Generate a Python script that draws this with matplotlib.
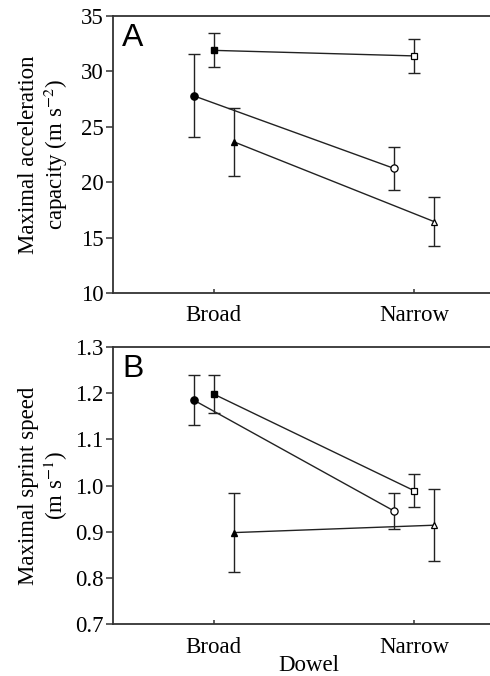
import matplotlib
matplotlib.use("Agg")
import matplotlib.pyplot as plt
import numpy as np

plt.rcParams['font.family'] = ['Liberation Serif', 'DejaVu Serif']
plt.rcParams['mathtext.fontset'] = 'stix'

dowel = ['Broad', 'Narrow']

# panel A: maximal acceleration capacity (m s-2)
acc_square = [31.9, 31.4]
acc_square_err = [1.53, 1.56]
acc_circle = [27.8, 21.25]
acc_circle_err = [3.73, 1.95]
acc_tri = [23.65, 16.45]
acc_tri_err = [3.07, 2.19]

# panel B: maximal sprint speed (m s-1)
spd_circle = [1.185, 0.945]
spd_circle_err = [0.054, 0.039]
spd_square = [1.198, 0.989]
spd_square_err = [0.041, 0.035]
spd_tri = [0.898, 0.914]
spd_tri_err = [0.086, 0.078]

fig = plt.figure(figsize=(4.9, 6.76), dpi=100)
axA = fig.add_axes([0.2306, 0.5666, 0.80, 0.4097])
axB = fig.add_axes([0.2306, 0.0769, 0.80, 0.4098])

x = np.arange(len(dowel))
spine_col = '#333333'


def draw_series(ax, xs, ys, err, marker, ms):
    ax.errorbar(xs, ys, yerr=err, fmt='none', ecolor='#222222', elinewidth=1.0,
                capsize=4, capthick=1.0, zorder=2)
    ax.plot(xs, ys, color='#222222', lw=1.0, zorder=3)
    ax.plot(xs[0], ys[0], marker=marker, ms=ms, color='black', mec='black',
            ls='none', zorder=4)
    ax.plot(xs[1], ys[1], marker=marker, ms=ms, color='white', mec='black',
            mew=0.9, ls='none', zorder=4)


def style(ax, ylim, yticks, fmt):
    ax.set_xlim(-0.503, 1.455)
    ax.set_ylim(*ylim)
    ax.set_yticks(yticks)
    ax.set_yticklabels([fmt.format(v) for v in yticks])
    ax.set_xticks(x)
    ax.set_xticklabels(dowel)
    ax.spines['right'].set_visible(False)
    for s in ['left', 'bottom', 'top']:
        ax.spines[s].set_color(spine_col)
        ax.spines[s].set_linewidth(1.3)
    ax.tick_params(axis='y', direction='out', length=5, width=1.1,
                   color=spine_col, labelsize=16.5, pad=2)
    ax.tick_params(axis='x', direction='in', length=3, width=1.1,
                   color=spine_col, labelsize=16.5, pad=9)


draw_series(axA, x, acc_square, acc_square_err, 's', 4.8)
draw_series(axA, x - 0.1, acc_circle, acc_circle_err, 'o', 5.2)
draw_series(axA, x + 0.1, acc_tri, acc_tri_err, '^', 5)
style(axA, (10, 35), [10, 15, 20, 25, 30, 35], '{:d}')
axA.set_ylabel('Maximal acceleration\ncapacity (m s$^{-2}$)', fontsize=16.5,
               linespacing=1.15)
axA.yaxis.set_label_coords(-0.109, 0.5)
axA.text(0.024, 0.975, 'A', transform=axA.transAxes, fontsize=23,
         family='Liberation Sans', va='top', ha='left')

draw_series(axB, x - 0.1, spd_circle, spd_circle_err, 'o', 5.2)
draw_series(axB, x, spd_square, spd_square_err, 's', 4.8)
draw_series(axB, x + 0.1, spd_tri, spd_tri_err, '^', 5)
style(axB, (0.7, 1.3), [0.7, 0.8, 0.9, 1.0, 1.1, 1.2, 1.3], '{:.1f}')
axB.set_ylabel('Maximal sprint speed\n(m s$^{-1}$)', fontsize=16.5,
               linespacing=1.15)
axB.yaxis.set_label_coords(-0.109, 0.5)
axB.set_xlabel('Dowel', fontsize=16.5, labelpad=-2)
axB.text(0.024, 0.975, 'B', transform=axB.transAxes, fontsize=23,
         family='Liberation Sans', va='top', ha='left')

fig.savefig('out.png', dpi=100)
